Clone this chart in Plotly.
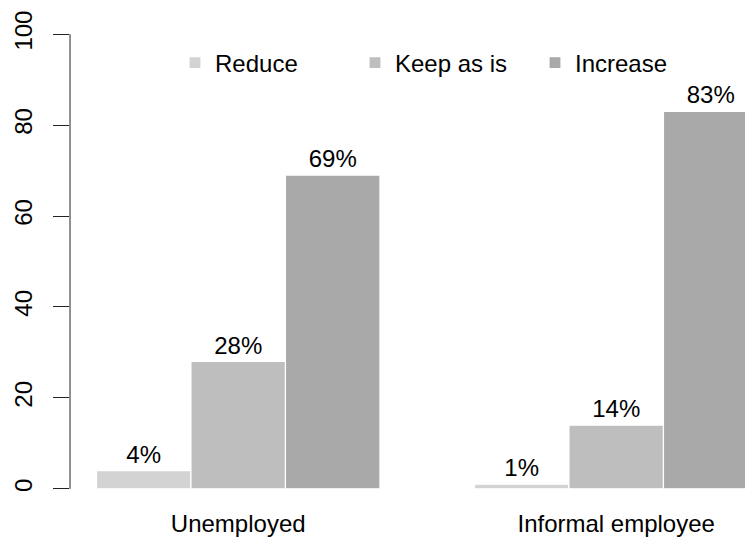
import plotly.graph_objects as go

categories = ["Unemployed", "Informal employee"]
series_names = ["Reduce", "Keep as is", "Increase"]
reduce_vals = [4, 1]
keep_vals = [28, 14]
increase_vals = [69, 83]
y_ticks = [0, 20, 40, 60, 80, 100]

series_values = [reduce_vals, keep_vals, increase_vals]
colors = ["#d3d3d3", "#bebebe", "#a9a9a9"]
FONT = "Liberation Sans, Arial, Helvetica, sans-serif"

# R barplot(beside=TRUE) layout: bar width 1, one unit gap before each group
n_series = len(series_names)
group_start = [1 + g * (n_series + 1) for g in range(len(categories))]
group_center = [s + n_series / 2 for s in group_start]

fig = go.Figure()
legend_ids = ["legend", "legend2", "legend3"]
for i, (name, vals) in enumerate(zip(series_names, series_values)):
    xs = [gs + i + 0.5 for gs in group_start]
    fig.add_trace(go.Bar(
        x=xs, y=vals, width=1, name=name,
        marker=dict(color=colors[i], line=dict(color="white", width=1.2)),
        text=[f"{v}%" for v in vals], textposition="outside",
        textfont=dict(size=24, color="black", family=FONT),
        cliponaxis=False, legend=legend_ids[i],
    ))

W, H = 745, 537
ML, MT, MB = 62, 8, 38
legend_item_px = [167, 347, 527]
leg = {}
for lid, px in zip(legend_ids, legend_item_px):
    leg[lid] = dict(
        xref="container", yref="container", x=px / W, y=1 - 55 / H,
        xanchor="left", yanchor="middle", orientation="h",
        font=dict(size=24, color="black", family=FONT),
        bgcolor="rgba(0,0,0,0)", borderwidth=0,
    )

fig.update_layout(
    width=W, height=H,
    margin=dict(l=ML, r=0, t=MT, b=MB, autoexpand=False),
    plot_bgcolor="white", paper_bgcolor="white",
    barmode="overlay", showlegend=True,
    font=dict(family=FONT, size=24, color="black"),
    xaxis=dict(
        range=[0.72, 0.72 + (W - ML) / 94.5],
        tickvals=group_center, ticktext=categories,
        showline=False, showgrid=False, zeroline=False, ticks="",
        tickfont=dict(size=24, color="black"),
        automargin=False,
    ),
    yaxis=dict(
        range=[-4, 104], tickvals=y_ticks,
        showline=False, showgrid=False, zeroline=False,
        ticks="outside", ticklen=16, tickcolor="#222", tickwidth=1,
        tickangle=-90, ticklabelstandoff=11,
        tickfont=dict(size=24, color="black"),
        automargin=False,
    ),
    shapes=[dict(type="line", xref="paper", yref="y", x0=0, x1=0,
                 y0=y_ticks[0], y1=y_ticks[-1],
                 line=dict(color="#222", width=1))],
    **leg,
)

fig.write_html("out.html")
